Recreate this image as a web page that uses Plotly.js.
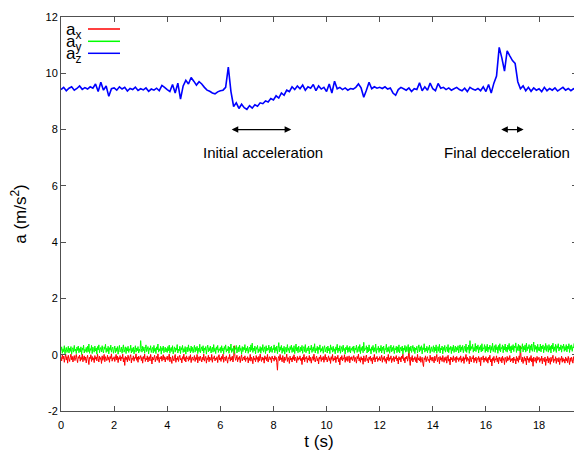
<!DOCTYPE html>
<html>
<head>
<meta charset="utf-8">
<script src="https://cdn.plot.ly/plotly-3.0.1.min.js"></script>
<style>
html,body{margin:0;padding:0;overflow:hidden;background:#fff;}
#chart{width:600px;height:451px;}
</style>
</head>
<body>
<div id="chart"></div>
<script>
// time step of the samples (s)
const dtAz = 0.1;
const dtXY = 0.025;

// a_z (m/s^2), sampled every 0.1 s from t = 0
const az = [
9.42,9.50,9.38,9.47,9.52,9.40,9.46,9.55,9.43,9.49,
9.44,9.52,9.47,9.62,9.35,9.68,9.40,9.55,9.18,9.45,
9.48,9.40,9.52,9.44,9.50,9.37,9.46,9.42,9.51,9.39,
9.45,9.41,9.48,9.36,9.44,9.40,9.47,9.38,9.57,9.50,
9.42,9.35,9.60,9.30,9.65,9.08,9.55,9.75,9.62,9.85,
9.72,9.58,9.70,9.62,9.50,9.40,9.36,9.30,9.27,9.34,
9.38,9.40,9.50,10.22,9.35,8.82,8.95,8.75,8.90,8.78,
8.72,8.85,8.76,8.88,8.83,8.95,8.92,9.02,8.98,9.10,
9.05,9.20,9.12,9.30,9.22,9.40,9.35,9.52,9.42,9.55,
9.45,9.58,9.40,9.52,9.47,9.60,9.38,9.55,9.44,9.50,
9.35,9.62,9.30,9.72,9.45,9.50,9.42,9.48,9.40,9.46,
9.44,9.50,9.62,9.48,9.15,9.40,9.68,9.45,9.52,9.47,
9.50,9.46,9.52,9.44,9.48,9.30,9.22,9.42,9.50,9.45,
9.40,9.48,9.35,9.45,9.42,9.66,9.38,9.52,9.40,9.65,
9.45,9.38,9.64,9.47,9.50,9.42,9.48,9.40,9.45,9.50,
9.42,9.38,9.47,9.35,9.50,9.44,9.40,9.46,9.38,9.52,
9.35,9.60,9.30,9.65,9.90,10.92,10.55,10.08,10.80,10.62,
10.45,10.35,9.70,9.45,9.55,9.38,9.50,9.36,9.48,9.40,
9.45,9.35,9.50,9.38,9.46,9.40,9.48,9.37,9.44,9.50,
9.40,9.46,9.38,9.45,9.42
];

// a_y (m/s^2), sampled every 0.025 s from t = 0
const ay = [
0.14,0.28,0.05,0.21,0.11,0.32,0.03,0.19,0.26,0.08,0.17,0.30,0.06,0.23,0.12,0.29,0.02,0.18,0.25,0.09,0.33,0.13,0.20,0.04,0.27,0.15,0.31,0.07,0.22,0.10,0.28,0.01,0.24,0.16,0.34,0.06,0.19,0.12,0.26,0.08,
0.30,0.11,0.38,0.05,0.22,0.15,0.33,0.04,0.27,0.18,0.09,0.31,0.13,0.24,0.02,0.29,0.17,0.35,0.07,0.20,0.26,0.10,0.32,0.14,0.06,0.28,0.19,0.37,0.08,0.23,0.12,0.30,0.03,0.25,0.16,0.34,0.09,0.21,0.27,0.05,
0.18,0.31,0.07,0.24,0.12,0.29,0.02,0.20,0.33,0.10,0.16,0.27,0.05,0.22,0.35,0.09,0.19,0.28,0.04,0.25,0.13,0.30,0.08,0.21,0.15,0.34,0.06,0.23,0.11,0.27,0.03,0.18,0.32,0.09,0.24,0.14,0.29,0.06,0.20,0.12,
0.50,0.22,0.09,0.30,0.14,0.27,0.05,0.21,0.35,0.11,0.18,0.29,0.03,0.24,0.16,0.32,0.08,0.20,0.26,0.06,0.33,0.12,0.23,0.04,0.28,0.17,0.38,0.09,0.21,0.13,0.30,0.02,0.25,0.15,0.31,0.07,0.19,0.27,0.10,0.22,
0.08,0.29,0.14,0.34,0.05,0.21,0.26,0.11,0.32,0.03,0.18,0.28,0.09,0.24,0.16,0.36,0.06,0.20,0.13,0.30,0.04,0.25,0.17,0.33,0.08,0.22,0.11,0.29,0.02,0.19,0.27,0.10,0.35,0.14,0.23,0.06,0.31,0.12,0.26,0.07,
0.21,0.33,0.09,0.26,0.15,0.30,0.04,0.23,0.11,0.37,0.07,0.19,0.28,0.13,0.32,0.05,0.24,0.16,0.29,0.02,0.22,0.34,0.10,0.25,0.14,0.31,0.06,0.20,0.27,0.09,0.36,0.12,0.23,0.04,0.28,0.17,0.33,0.08,0.21,0.15,
0.26,0.07,0.32,0.13,0.24,0.03,0.29,0.18,0.35,0.09,0.21,0.14,0.30,0.05,0.27,0.16,0.38,0.08,0.22,0.12,0.31,0.04,0.25,0.19,0.33,0.06,0.20,0.28,0.10,0.34,0.15,0.23,0.02,0.29,0.11,0.26,0.17,0.36,0.07,0.24,
0.13,0.30,0.05,0.22,0.27,0.10,0.35,0.16,0.41,0.08,0.24,0.14,0.31,0.03,0.26,0.19,0.33,0.07,0.21,0.12,0.29,0.05,0.25,0.15,0.36,0.09,0.20,0.28,0.04,0.32,0.13,0.23,0.17,0.34,0.06,0.27,0.11,0.30,0.08,0.22,
0.18,0.35,0.07,0.26,0.14,0.31,0.04,0.22,0.43,0.10,0.28,0.16,0.33,0.05,0.24,0.12,0.30,0.02,0.21,0.27,0.09,0.36,0.15,0.23,0.06,0.29,0.18,0.34,0.08,0.25,0.11,0.32,0.04,0.20,0.38,0.13,0.26,0.07,0.31,0.16,
0.09,0.27,0.14,0.33,0.05,0.22,0.29,0.11,0.36,0.07,0.19,0.25,0.13,0.31,0.03,0.24,0.17,0.34,0.08,0.21,0.28,0.12,0.39,0.06,0.23,0.15,0.30,0.04,0.26,0.18,0.35,0.09,0.22,0.13,0.29,0.05,0.24,0.32,0.10,0.20,
0.27,0.06,0.31,0.14,0.23,0.04,0.35,0.17,0.26,0.09,0.30,0.12,0.21,0.03,0.28,0.16,0.37,0.07,0.24,0.13,0.32,0.05,0.20,0.29,0.10,0.34,0.15,0.22,0.02,0.27,0.18,0.33,0.08,0.25,0.11,0.30,0.06,0.23,0.16,0.28,
0.12,0.31,0.05,0.24,0.17,0.34,0.08,0.22,0.29,0.11,0.36,0.04,0.26,0.15,0.30,0.07,0.44,0.13,0.23,0.19,0.32,0.06,0.27,0.10,0.35,0.14,0.21,0.03,0.28,0.16,0.33,0.09,0.25,0.12,0.38,0.05,0.22,0.18,0.30,0.08,
0.24,0.13,0.33,0.06,0.27,0.15,0.31,0.03,0.22,0.18,0.37,0.09,0.25,0.12,0.29,0.05,0.21,0.34,0.10,0.26,0.14,0.32,0.04,0.23,0.17,0.30,0.07,0.28,0.11,0.35,0.06,0.20,0.27,0.13,0.31,0.02,0.24,0.16,0.33,0.09,
0.29,0.11,0.23,0.36,0.05,0.26,0.14,0.31,0.08,0.21,0.33,0.12,0.27,0.04,0.24,0.17,0.30,0.06,0.22,0.35,0.10,0.28,0.15,0.32,0.03,0.25,0.18,0.39,0.09,0.23,0.13,0.30,0.07,0.26,0.16,0.34,0.05,0.21,0.28,0.11,
0.20,0.32,0.08,0.27,0.14,0.35,0.05,0.23,0.29,0.12,0.37,0.06,0.24,0.17,0.31,0.03,0.26,0.15,0.33,0.09,0.22,0.28,0.11,0.36,0.07,0.25,0.18,0.30,0.04,0.27,0.14,0.34,0.08,0.21,0.31,0.10,0.26,0.16,0.32,0.06,
0.23,0.35,0.10,0.28,0.16,0.33,0.07,0.25,0.30,0.12,0.38,0.08,0.27,0.18,0.34,0.05,0.50,0.15,0.29,0.21,0.37,0.09,0.26,0.14,0.40,0.11,0.31,0.19,0.35,0.06,0.28,0.17,0.33,0.10,0.39,0.13,0.25,0.20,0.36,0.08,
0.30,0.14,0.37,0.09,0.27,0.19,0.34,0.06,0.29,0.16,0.41,0.11,0.25,0.32,0.08,0.36,0.18,0.28,0.05,0.33,0.15,0.39,0.10,0.26,0.21,0.35,0.07,0.30,0.17,0.38,0.12,0.27,0.09,0.34,0.19,0.40,0.13,0.29,0.06,0.32,
0.18,0.36,0.11,0.31,0.24,0.42,0.08,0.29,0.15,0.37,0.13,0.33,0.06,0.27,0.20,0.39,0.10,0.30,0.17,0.35,0.09,0.41,0.14,0.28,0.22,0.36,0.07,0.32,0.16,0.38,0.12,0.26,0.45,0.11,0.34,0.19,0.29,0.08,0.37,0.15,
0.27,0.13,0.38,0.10,0.31,0.21,0.35,0.07,0.29,0.17,0.40,0.12,0.33,0.24,0.09,0.36,0.16,0.30,0.06,0.34,0.20,0.41,0.11,0.28,0.15,0.37,0.08,0.32,0.23,0.39,0.13,0.27,0.18,0.35,0.09,0.31,0.22,0.38,0.12,0.29,
0.16,0.36,0.10,0.30,0.21,0.39,0.08,0.33,0.18,0.35,0.12,0.28,0.24,0.40,0.11,0.31,0.19
];

// a_x (m/s^2), sampled every 0.025 s from t = 0
const ax = [
-0.08,-0.22,0.01,-0.15,-0.05,-0.27,-0.11,0.03,-0.19,-0.07,-0.30,-0.02,-0.14,-0.24,-0.09,0.02,-0.18,-0.06,-0.26,-0.12,-0.03,-0.21,-0.10,0.01,-0.16,-0.28,-0.07,-0.13,-0.01,-0.23,-0.09,-0.17,0.02,-0.25,-0.11,-0.04,-0.20,-0.08,-0.29,-0.13,
-0.02,-0.18,-0.35,-0.09,-0.14,0.00,-0.24,-0.06,-0.19,-0.11,-0.28,-0.03,-0.16,-0.08,-0.22,0.02,-0.13,-0.26,-0.05,-0.17,-0.10,-0.31,-0.04,-0.20,-0.12,0.01,-0.25,-0.07,-0.15,-0.21,-0.02,-0.18,-0.09,-0.27,-0.06,-0.14,0.03,-0.23,-0.11,-0.16,
-0.07,-0.24,-0.12,0.01,-0.19,-0.05,-0.28,-0.10,-0.16,-0.03,-0.22,-0.08,-0.14,0.02,-0.26,-0.11,-0.38,-0.06,-0.18,-0.09,-0.25,-0.02,-0.15,-0.21,-0.07,0.00,-0.29,-0.12,-0.17,-0.04,-0.23,-0.10,-0.13,0.03,-0.20,-0.08,-0.27,-0.05,-0.16,-0.11,
-0.03,-0.21,-0.09,-0.30,-0.06,-0.15,0.02,-0.24,-0.12,-0.18,-0.04,-0.26,-0.10,-0.07,-0.22,0.01,-0.14,-0.33,-0.08,-0.19,-0.11,-0.02,-0.25,-0.13,-0.06,-0.20,0.03,-0.17,-0.28,-0.09,-0.15,-0.05,-0.23,-0.12,0.00,-0.19,-0.07,-0.26,-0.10,-0.16,
-0.05,-0.20,-0.11,0.02,-0.25,-0.08,-0.17,-0.31,-0.04,-0.14,-0.22,-0.09,0.01,-0.27,-0.12,-0.18,-0.06,-0.24,-0.10,-0.02,-0.19,-0.13,-0.29,-0.07,-0.16,0.02,-0.21,-0.09,-0.26,-0.04,-0.15,-0.11,-0.23,-0.06,-0.18,0.00,-0.28,-0.12,-0.08,-0.20,
-0.14,-0.03,-0.24,-0.10,-0.17,0.01,-0.29,-0.12,-0.07,-0.21,-0.05,-0.16,-0.26,-0.09,-0.19,0.02,-0.23,-0.13,-0.06,-0.30,-0.11,-0.18,-0.02,-0.25,-0.08,-0.15,-0.20,0.01,-0.27,-0.10,-0.14,-0.04,-0.22,-0.12,-0.17,-0.07,-0.28,-0.09,0.00,-0.19,
-0.11,-0.24,-0.06,-0.16,0.02,-0.27,-0.13,-0.08,-0.21,-0.04,-0.18,-0.30,-0.10,-0.15,0.01,-0.23,-0.09,-0.19,-0.05,-0.26,-0.12,0.32,-0.07,-0.20,-0.14,-0.02,-0.25,-0.10,-0.17,-0.06,-0.28,-0.11,0.00,-0.22,-0.13,-0.08,-0.19,-0.04,-0.24,-0.12,
-0.16,-0.07,-0.29,-0.11,-0.20,0.01,-0.23,-0.09,-0.15,-0.32,-0.05,-0.18,-0.12,-0.25,-0.03,-0.17,-0.10,-0.27,-0.06,-0.21,0.02,-0.14,-0.24,-0.08,-0.19,-0.11,-0.30,-0.04,-0.16,-0.09,-0.22,0.01,-0.26,-0.13,-0.07,-0.18,-0.10,-0.28,-0.05,-0.15,
-0.12,-0.23,-0.04,-0.17,-0.09,-0.27,-0.55,-0.14,-0.06,-0.21,0.01,-0.18,-0.11,-0.25,-0.03,-0.16,-0.29,-0.08,-0.20,-0.13,0.02,-0.24,-0.10,-0.15,-0.31,-0.05,-0.19,-0.12,-0.26,-0.07,-0.17,0.00,-0.22,-0.09,-0.14,-0.28,-0.06,-0.20,-0.11,-0.16,
-0.04,-0.21,-0.13,-0.35,-0.08,-0.18,0.01,-0.25,-0.10,-0.15,-0.06,-0.28,-0.12,-0.19,-0.03,-0.23,-0.09,-0.30,-0.14,-0.07,-0.20,0.02,-0.17,-0.26,-0.11,-0.05,-0.22,-0.13,-0.33,-0.08,-0.16,-0.02,-0.24,-0.10,-0.18,-0.06,-0.27,-0.12,0.01,-0.19,
-0.09,-0.26,-0.14,-0.04,-0.21,-0.11,-0.31,-0.07,-0.17,0.01,-0.23,-0.12,-0.19,-0.05,-0.28,-0.10,-0.15,-0.02,-0.25,-0.13,-0.36,-0.08,-0.18,-0.03,-0.22,-0.11,-0.16,0.00,-0.27,-0.09,-0.20,-0.06,-0.24,-0.14,-0.04,-0.29,-0.10,-0.17,-0.07,-0.21,
-0.13,-0.03,-0.24,-0.09,-0.18,-0.30,-0.06,-0.15,0.02,-0.22,-0.11,-0.27,-0.07,-0.19,-0.12,-0.34,-0.04,-0.16,-0.25,-0.10,-0.01,-0.21,-0.14,-0.29,-0.08,-0.17,-0.05,-0.23,-0.12,-0.32,-0.09,-0.18,0.01,-0.26,-0.11,-0.15,-0.06,-0.24,-0.13,-0.19,
-0.07,-0.22,-0.12,-0.02,-0.27,-0.10,-0.17,-0.05,-0.24,-0.14,-0.31,-0.08,-0.19,0.01,-0.23,-0.11,-0.16,-0.04,-0.28,-0.13,-0.20,-0.06,-0.25,-0.09,-0.15,-0.03,-0.22,-0.12,-0.33,-0.07,-0.18,-0.10,-0.26,-0.05,-0.14,0.02,-0.21,-0.11,-0.29,-0.08,
-0.15,-0.05,-0.23,-0.12,0.22,-0.18,-0.38,-0.09,-0.20,-0.03,-0.26,-0.13,-0.17,-0.07,-0.24,-0.10,-0.29,0.01,-0.19,-0.12,-0.22,-0.06,-0.27,-0.14,-0.09,-0.31,-0.42,-0.11,-0.18,-0.04,-0.25,-0.13,-0.07,-0.21,-0.16,-0.28,-0.02,-0.19,-0.10,-0.23,
-0.08,-0.17,-0.29,-0.05,-0.21,-0.12,0.01,-0.25,-0.14,-0.09,-0.32,-0.06,-0.19,-0.11,-0.24,-0.03,-0.16,-0.27,-0.10,-0.20,-0.07,-0.30,-0.13,-0.02,-0.23,-0.15,-0.36,-0.08,-0.18,-0.11,-0.26,-0.04,-0.21,-0.14,-0.09,-0.28,-0.06,-0.17,-0.12,-0.24,
-0.10,-0.19,-0.04,-0.27,-0.13,-0.22,-0.07,-0.31,-0.11,-0.16,0.01,-0.24,-0.09,-0.20,-0.14,-0.33,-0.05,-0.18,-0.26,-0.10,-0.15,-0.03,-0.28,-0.12,-0.21,-0.08,-0.30,-0.13,-0.17,-0.06,-0.25,-0.11,-0.39,-0.09,-0.19,-0.14,-0.04,-0.27,-0.12,-0.20,
-0.07,-0.24,-0.13,-0.30,-0.09,-0.18,-0.02,-0.26,-0.15,-0.40,-0.11,-0.21,-0.06,-0.28,-0.14,-0.19,-0.04,-0.25,-0.12,-0.32,-0.08,-0.17,-0.23,-0.10,-0.29,-0.05,-0.20,-0.13,-0.35,-0.09,-0.16,-0.27,-0.06,-0.22,-0.11,-0.18,-0.03,-0.26,-0.14,-0.21,
-0.12,-0.29,-0.08,-0.20,-0.15,-0.33,-0.06,-0.22,-0.11,-0.27,-0.04,-0.18,0.30,-0.13,-0.25,-0.09,-0.31,-0.16,-0.07,-0.23,-0.12,-0.36,-0.05,-0.19,-0.14,-0.28,-0.10,-0.21,-0.03,-0.26,-0.13,-0.41,-0.08,-0.17,-0.24,-0.11,-0.30,-0.06,-0.20,-0.15,
-0.09,-0.27,-0.14,-0.21,-0.05,-0.32,-0.12,-0.18,-0.25,-0.08,-0.38,-0.15,-0.22,-0.06,-0.29,-0.11,-0.19,-0.34,-0.09,-0.24,-0.13,-0.02,-0.28,-0.16,-0.21,-0.07,-0.31,-0.12,-0.18,-0.26,-0.10,-0.35,-0.14,-0.20,-0.05,-0.27,-0.11,-0.23,-0.16,-0.30,
-0.08,-0.22,-0.13,-0.28,-0.06,-0.19,-0.35,-0.11,-0.24,-0.09,-0.17,-0.30,-0.07,-0.21,-0.14,-0.26,-0.10
];

const xTicks = [0,2,4,6,8,10,12,14,16,18];
const yTicks = [-2,0,2,4,6,8,10,12];
const seriesNames = ['a<sub>x</sub>','a<sub>y</sub>','a<sub>z</sub>'];
const seriesColors = ['#ff0000','#00ff00','#0000ff'];
const notes = [
  {text:'Initial acceleration', x:7.6, y:7.2, from:6.37, to:8.67, ya:8.0},
  {text:'Final decceleration', x:16.78, y:7.2, from:16.52, to:17.42, ya:8.0}
];

const tXY = ax.map((_, i) => +(i * dtXY).toFixed(3));
const tY = ay.map((_, i) => +(i * dtXY).toFixed(3));
const tZ = az.map((_, i) => +(i * dtAz).toFixed(3));

const traces = [
  {x: tXY, y: ax, name: seriesNames[0], type:'scatter', mode:'lines', line:{color:seriesColors[0], width:1, simplify:false}},
  {x: tY,  y: ay, name: seriesNames[1], type:'scatter', mode:'lines', line:{color:seriesColors[1], width:1, simplify:false}},
  {x: tZ,  y: az, name: seriesNames[2], type:'scatter', mode:'lines', line:{color:seriesColors[2], width:1.6, simplify:false}}
];

const W = 600, H = 451, ML = 61, MR = 23, MT = 17, MB = 40;
const pw = W - ML - MR, ph = H - MT - MB;
const px = v => (v - ML) / pw;
const py = v => 1 - (v - MT) / ph;

const font = 'Liberation Sans, Arial, Helvetica, sans-serif';
const annotations = [];
const shapes = [];
// legend drawn gnuplot-style: label then line sample
const legY = [29, 41.3, 53.3];
seriesNames.forEach((n, i) => {
  annotations.push({xref:'paper', yref:'paper', x:px(83), y:py(legY[i]+2), xanchor:'right', yanchor:'middle',
    text:n, showarrow:false, font:{family:font, size:17, color:'#000'}});
  shapes.push({type:'line', xref:'paper', yref:'paper', x0:px(88), x1:px(120), y0:py(legY[i]), y1:py(legY[i]),
    line:{color:seriesColors[i], width:1.5}});
});
notes.forEach(n => {
  annotations.push({xref:'x', yref:'y', x:n.x, y:n.y, text:n.text, showarrow:false,
    font:{family:font, size:15, color:'#000'}});
  annotations.push({xref:'x', yref:'y', x:n.to, y:n.ya, axref:'x', ayref:'y', ax:n.from, ay:n.ya,
    text:'', showarrow:true, arrowside:'end+start', arrowhead:2, arrowsize:1.1, arrowwidth:1.2,
    arrowcolor:'#000', standoff:0, startstandoff:0});
});

const axisCommon = {
  showline:true, linecolor:'#505050', linewidth:1, mirror:'ticks',
  ticks:'inside', ticklen:5, tickcolor:'#505050', tickwidth:1,
  showgrid:false, zeroline:false,
  tickfont:{family:font, size:11, color:'#000'}
};

const layout = {
  width:W, height:H,
  margin:{l:ML, r:MR, t:MT, b:MB, pad:0},
  paper_bgcolor:'#fff', plot_bgcolor:'#fff',
  showlegend:false,
  xaxis: Object.assign({}, axisCommon, {range:[0,19.43], tickvals:xTicks, ticktext:xTicks.map(String),
    ticklabelstandoff:4,
    title:{text:'t (s)', font:{family:font, size:17, color:'#000'}, standoff:8}}),
  yaxis: Object.assign({}, axisCommon, {range:[-2,12], tickvals:yTicks, ticktext:yTicks.map(String),
    title:{text:'a (m/s<sup>2</sup>)', font:{family:font, size:17, color:'#000'}, standoff:14}}),
  annotations: annotations,
  shapes: shapes
};

Plotly.newPlot('chart', traces, layout, {staticPlot:true, displayModeBar:false});
</script>
</body>
</html>
